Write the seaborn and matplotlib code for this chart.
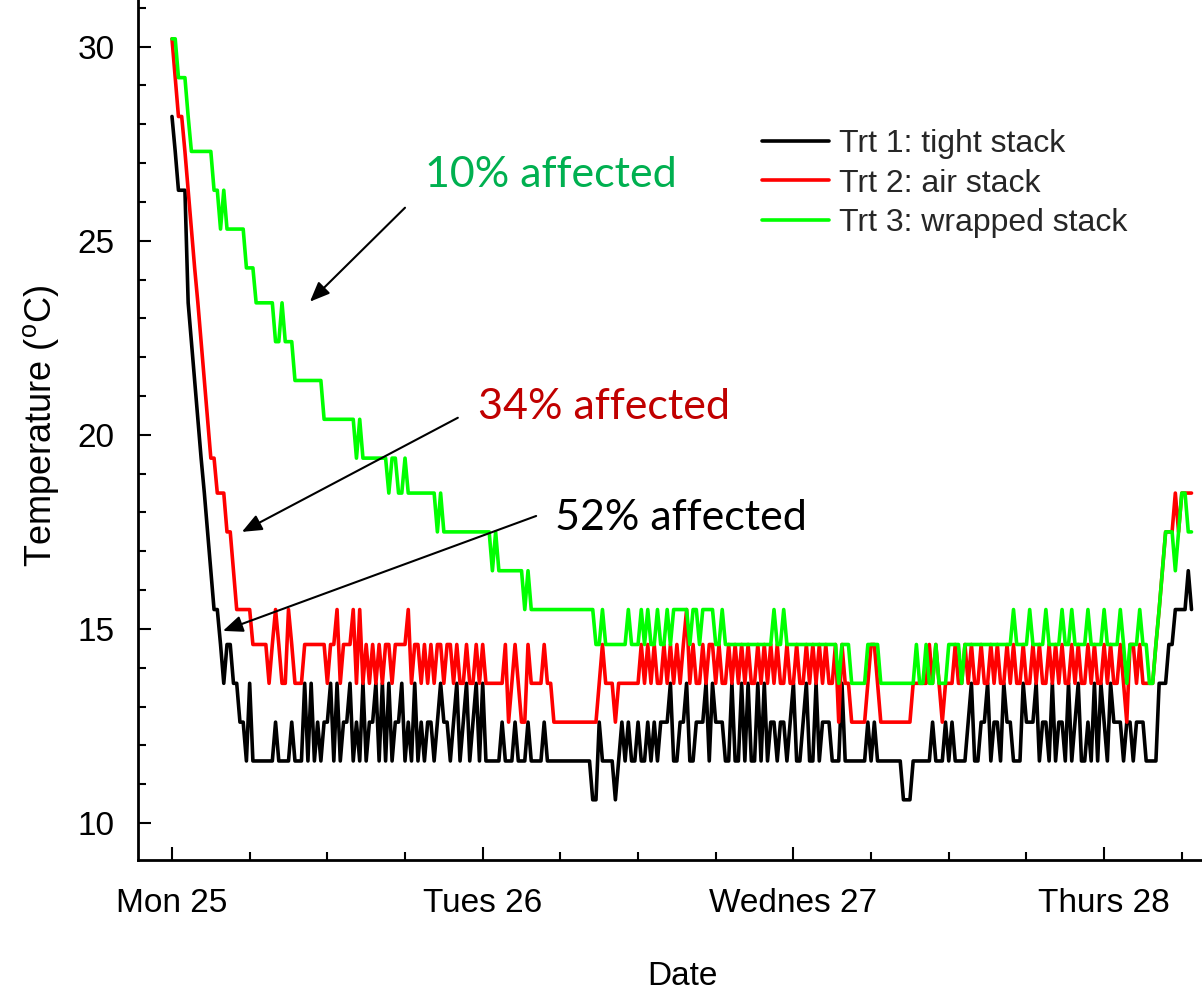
import numpy as np
import pandas as pd
import matplotlib
matplotlib.use("Agg")
import matplotlib.pyplot as plt
import seaborn as sns

sns.set_theme(style="ticks")
plt.rcParams["font.family"] = ["Liberation Sans", "DejaVu Sans"]
plt.rcParams["mathtext.default"] = "regular"

# logger readings, one every 15 min starting Mon 25 00:00
trt1 = [
    28.2, 27.3, 26.3, 26.3, 26.3, 23.4, 22.4, 21.4, 20.4, 19.4,
    18.5, 17.5, 16.5, 15.5, 15.5, 14.6, 13.6, 14.6, 14.6, 13.6,
    13.6, 12.6, 12.6, 11.6, 13.6, 11.6, 11.6, 11.6, 11.6, 11.6,
    11.6, 11.6, 12.6, 11.6, 11.6, 11.6, 11.6, 12.6, 11.6, 11.6,
    11.6, 13.6, 11.6, 13.6, 11.6, 12.6, 11.6, 12.6, 12.6, 13.6,
    11.6, 13.6, 11.6, 12.6, 12.6, 13.6, 11.6, 12.6, 11.6, 13.6,
    11.6, 12.6, 12.6, 13.6, 11.6, 13.6, 11.6, 13.6, 11.6, 12.6,
    12.6, 13.6, 11.6, 12.6, 11.6, 13.6, 11.6, 12.6, 11.6, 12.6,
    12.6, 11.6, 12.6, 13.6, 12.6, 12.6, 11.6, 12.6, 13.6, 11.6,
    12.6, 13.6, 11.6, 12.6, 13.6, 11.6, 13.6, 11.6, 11.6, 11.6,
    11.6, 11.6, 12.6, 11.6, 11.6, 11.6, 12.6, 11.6, 11.6, 11.6,
    12.6, 11.6, 11.6, 11.6, 11.6, 12.6, 11.6, 11.6, 11.6, 11.6,
    11.6, 11.6, 11.6, 11.6, 11.6, 11.6, 11.6, 11.6, 11.6, 11.6,
    10.6, 10.6, 12.6, 11.6, 11.6, 11.6, 11.6, 10.6, 11.6, 12.6,
    11.6, 12.6, 11.6, 11.6, 12.6, 11.6, 11.6, 12.6, 11.6, 12.6,
    11.6, 12.6, 12.6, 12.6, 13.6, 11.6, 11.6, 12.6, 12.6, 13.6,
    11.6, 11.6, 12.6, 12.6, 12.6, 13.6, 11.6, 13.6, 12.6, 12.6,
    12.6, 11.6, 11.6, 13.6, 11.6, 11.6, 13.6, 11.6, 13.6, 11.6,
    11.6, 13.6, 11.6, 13.6, 11.6, 12.6, 12.6, 11.6, 12.6, 12.6,
    11.6, 12.6, 13.6, 11.6, 11.6, 12.6, 13.6, 11.6, 11.6, 13.6,
    11.6, 12.6, 12.6, 12.6, 11.6, 11.6, 11.6, 13.6, 11.6, 11.6,
    11.6, 11.6, 11.6, 11.6, 11.6, 12.6, 11.6, 12.6, 11.6, 11.6,
    11.6, 11.6, 11.6, 11.6, 11.6, 11.6, 10.6, 10.6, 10.6, 11.6,
    11.6, 11.6, 11.6, 11.6, 11.6, 12.6, 11.6, 11.6, 11.6, 12.6,
    11.6, 12.6, 11.6, 11.6, 11.6, 11.6, 12.6, 13.6, 11.6, 11.6,
    12.6, 12.6, 13.6, 11.6, 12.6, 12.6, 11.6, 13.6, 12.6, 12.6,
    11.6, 11.6, 11.6, 13.6, 12.6, 12.6, 12.6, 13.6, 11.6, 12.6,
    12.6, 11.6, 13.6, 11.6, 12.6, 12.6, 11.6, 13.6, 11.6, 12.6,
    13.6, 11.6, 11.6, 12.6, 11.6, 13.6, 11.6, 13.6, 12.6, 11.6,
    13.6, 12.6, 12.6, 12.6, 11.6, 12.6, 12.6, 11.6, 12.6, 12.6,
    12.6, 11.6, 11.6, 11.6, 11.6, 13.6, 13.6, 13.6, 14.6, 14.6,
    15.5, 15.5, 15.5, 15.5, 16.5, 15.5,
]

trt2 = [
    30.2, 29.2, 28.2, 28.2, 27.3, 26.3, 25.3, 24.3, 23.4, 22.4,
    21.4, 20.4, 19.4, 19.4, 18.5, 18.5, 18.5, 17.5, 17.5, 16.5,
    15.5, 15.5, 15.5, 15.5, 15.5, 14.6, 14.6, 14.6, 14.6, 14.6,
    13.6, 14.6, 15.5, 14.6, 13.6, 13.6, 15.5, 14.6, 13.6, 13.6,
    13.6, 14.6, 14.6, 14.6, 14.6, 14.6, 14.6, 14.6, 13.6, 14.6,
    14.6, 15.5, 13.6, 14.6, 14.6, 14.6, 15.5, 13.6, 15.5, 13.6,
    14.6, 13.6, 14.6, 13.6, 14.6, 13.6, 14.6, 14.6, 13.6, 14.6,
    14.6, 14.6, 14.6, 15.5, 13.6, 14.6, 14.6, 13.6, 14.6, 13.6,
    14.6, 13.6, 14.6, 14.6, 13.6, 14.6, 14.6, 13.6, 14.6, 13.6,
    13.6, 14.6, 13.6, 13.6, 14.6, 13.6, 14.6, 13.6, 13.6, 13.6,
    13.6, 13.6, 13.6, 14.6, 12.6, 13.6, 14.6, 13.6, 12.6, 12.6,
    14.6, 13.6, 13.6, 13.6, 13.6, 14.6, 13.6, 13.6, 12.6, 12.6,
    12.6, 12.6, 12.6, 12.6, 12.6, 12.6, 12.6, 12.6, 12.6, 12.6,
    12.6, 12.6, 13.6, 14.6, 13.6, 13.6, 13.6, 12.6, 13.6, 13.6,
    13.6, 13.6, 13.6, 13.6, 13.6, 14.6, 13.6, 14.6, 13.6, 14.6,
    13.6, 13.6, 14.6, 13.6, 14.6, 13.6, 14.6, 13.6, 14.6, 15.5,
    13.6, 14.6, 13.6, 13.6, 14.6, 13.6, 14.6, 14.6, 13.6, 14.6,
    13.6, 13.6, 14.6, 13.6, 14.6, 13.6, 14.6, 13.6, 14.6, 13.6,
    13.6, 14.6, 13.6, 14.6, 13.6, 14.6, 13.6, 14.6, 13.6, 13.6,
    14.6, 13.6, 13.6, 14.6, 13.6, 13.6, 14.6, 13.6, 14.6, 13.6,
    14.6, 13.6, 14.6, 13.6, 13.6, 14.6, 12.6, 14.6, 13.6, 13.6,
    12.6, 12.6, 12.6, 12.6, 12.6, 13.6, 14.6, 14.6, 13.6, 12.6,
    12.6, 12.6, 12.6, 12.6, 12.6, 12.6, 12.6, 12.6, 12.6, 13.6,
    13.6, 13.6, 13.6, 13.6, 14.6, 13.6, 14.6, 13.6, 12.6, 13.6,
    13.6, 13.6, 14.6, 13.6, 13.6, 14.6, 13.6, 14.6, 13.6, 13.6,
    14.6, 13.6, 13.6, 14.6, 13.6, 14.6, 13.6, 13.6, 14.6, 13.6,
    14.6, 13.6, 13.6, 14.6, 13.6, 13.6, 14.6, 13.6, 14.6, 13.6,
    13.6, 14.6, 13.6, 14.6, 13.6, 14.6, 13.6, 13.6, 14.6, 13.6,
    14.6, 13.6, 13.6, 14.6, 13.6, 14.6, 13.6, 13.6, 14.6, 13.6,
    14.6, 13.6, 13.6, 14.6, 13.6, 12.6, 14.6, 14.6, 13.6, 14.6,
    13.6, 13.6, 13.6, 13.6, 14.6, 15.5, 16.5, 17.5, 17.5, 17.5,
    18.5, 17.5, 18.5, 18.5, 18.5, 18.5,
]

trt3 = [
    30.2, 30.2, 29.2, 29.2, 29.2, 28.2, 27.3, 27.3, 27.3, 27.3,
    27.3, 27.3, 27.3, 26.3, 26.3, 25.3, 26.3, 25.3, 25.3, 25.3,
    25.3, 25.3, 25.3, 24.3, 24.3, 24.3, 23.4, 23.4, 23.4, 23.4,
    23.4, 23.4, 22.4, 22.4, 23.4, 22.4, 22.4, 22.4, 21.4, 21.4,
    21.4, 21.4, 21.4, 21.4, 21.4, 21.4, 21.4, 20.4, 20.4, 20.4,
    20.4, 20.4, 20.4, 20.4, 20.4, 20.4, 20.4, 19.4, 20.4, 19.4,
    19.4, 19.4, 19.4, 19.4, 19.4, 19.4, 19.4, 18.5, 19.4, 19.4,
    18.5, 18.5, 19.4, 18.5, 18.5, 18.5, 18.5, 18.5, 18.5, 18.5,
    18.5, 18.5, 17.5, 18.5, 17.5, 17.5, 17.5, 17.5, 17.5, 17.5,
    17.5, 17.5, 17.5, 17.5, 17.5, 17.5, 17.5, 17.5, 17.5, 16.5,
    17.5, 16.5, 16.5, 16.5, 16.5, 16.5, 16.5, 16.5, 16.5, 15.5,
    16.5, 15.5, 15.5, 15.5, 15.5, 15.5, 15.5, 15.5, 15.5, 15.5,
    15.5, 15.5, 15.5, 15.5, 15.5, 15.5, 15.5, 15.5, 15.5, 15.5,
    15.5, 14.6, 14.6, 15.5, 14.6, 14.6, 14.6, 14.6, 14.6, 14.6,
    14.6, 15.5, 14.6, 14.6, 14.6, 15.5, 14.6, 15.5, 14.6, 14.6,
    15.5, 14.6, 14.6, 15.5, 14.6, 15.5, 15.5, 15.5, 15.5, 15.5,
    14.6, 15.5, 15.5, 14.6, 15.5, 15.5, 15.5, 15.5, 14.6, 14.6,
    15.5, 14.6, 14.6, 14.6, 14.6, 14.6, 14.6, 14.6, 14.6, 14.6,
    14.6, 14.6, 14.6, 14.6, 14.6, 14.6, 15.5, 14.6, 14.6, 15.5,
    14.6, 14.6, 14.6, 14.6, 14.6, 14.6, 14.6, 14.6, 14.6, 14.6,
    14.6, 14.6, 14.6, 14.6, 14.6, 14.6, 13.6, 14.6, 14.6, 14.6,
    13.6, 13.6, 13.6, 13.6, 13.6, 14.6, 14.6, 14.6, 14.6, 13.6,
    13.6, 13.6, 13.6, 13.6, 13.6, 13.6, 13.6, 13.6, 13.6, 13.6,
    14.6, 13.6, 13.6, 14.6, 13.6, 13.6, 14.6, 13.6, 13.6, 13.6,
    14.6, 14.6, 14.6, 14.6, 13.6, 14.6, 14.6, 14.6, 14.6, 14.6,
    14.6, 14.6, 14.6, 14.6, 14.6, 14.6, 14.6, 14.6, 14.6, 14.6,
    15.5, 14.6, 14.6, 14.6, 14.6, 15.5, 14.6, 14.6, 14.6, 14.6,
    15.5, 14.6, 14.6, 14.6, 14.6, 15.5, 14.6, 14.6, 15.5, 14.6,
    14.6, 14.6, 14.6, 15.5, 14.6, 14.6, 14.6, 14.6, 15.5, 14.6,
    14.6, 14.6, 14.6, 15.5, 14.6, 13.6, 14.6, 14.6, 14.6, 15.5,
    14.6, 14.6, 13.6, 13.6, 14.6, 15.5, 16.5, 17.5, 17.5, 17.5,
    16.5, 17.5, 18.5, 18.5, 17.5, 17.5,
]

trt_labels = ["Trt 1: tight stack", "Trt 2: air stack", "Trt 3: wrapped stack"]
trt_colors = ["#000000", "#ff0000", "#00ff00"]
day_ticks = [0, 1, 2, 3]
day_labels = ["Mon 25", "Tues 26", "Wednes 27", "Thurs 28"]

frames = []
for lab, vals in zip(trt_labels, [trt1, trt2, trt3]):
    frames.append(pd.DataFrame({"day": np.arange(len(vals)) / 96.0,
                                "temp": vals, "trt": lab}))
df = pd.concat(frames, ignore_index=True)

fig = plt.figure(figsize=(12.02, 9.92), dpi=100)
ax = fig.add_axes([0.1148, 0.1331, 0.8852, 0.8669])

sns.lineplot(data=df, x="day", y="temp", hue="trt", hue_order=trt_labels,
             palette=trt_colors, estimator=None, sort=False, lw=2.6,
             legend=False, ax=ax)

ax.set_xlim(-0.1094, 3.315)
ax.set_ylim(9.05, 31.2)
ax.set_xticks(day_ticks)
ax.set_xticklabels(day_labels)
ax.set_xticks(np.arange(0, 3.3, 0.25), minor=True)
ax.set_yticks([10, 15, 20, 25, 30])
ax.set_yticks(np.arange(10, 32, 1), minor=True)
ax.tick_params(which="both", direction="in", width=1.5, color="black",
               labelsize=24, labelcolor="black")
ax.tick_params(which="major", length=9.5)
ax.tick_params(which="minor", length=6)
ax.tick_params(axis="y", which="major", pad=17)
ax.tick_params(axis="x", which="major", pad=20)

sns.despine(ax=ax)
for side in ["left", "bottom"]:
    ax.spines[side].set_linewidth(2)
    ax.spines[side].set_color("black")

ax.set_xlabel("Date", fontsize=24, color="black")
ax.set_ylabel(r"Temperature ($^{o}$C)", fontsize=26, color="black")
ax.xaxis.set_label_coords(0.512, -0.118)
ax.yaxis.set_label_coords(-0.072, 0.505)

handles = [plt.Line2D([], [], color=c, lw=2.6) for c in trt_colors]
ax.legend(handles, trt_labels, loc="upper left", bbox_to_anchor=(0.5865, 0.850),
          frameon=False, fontsize=23, handlelength=2.1, handletextpad=0.3,
          labelspacing=0.3, borderpad=0, borderaxespad=0)

# damage annotations
arrow = dict(arrowstyle="-|>,head_length=0.6,head_width=0.25", color="black",
             lw=1.5, mutation_scale=20, shrinkA=0, shrinkB=0)
ax.annotate("", xy=(0.444, 23.43), xytext=(0.750, 25.85), arrowprops=arrow)
ax.annotate("", xy=(0.225, 17.50), xytext=(0.920, 20.44), arrowprops=arrow)
ax.annotate("", xy=(0.164, 14.95), xytext=(1.172, 17.91), arrowprops=arrow)
note_font = ["Lato", "DejaVu Sans"]
ax.text(0.814, 26.39, "10% affected", color="#00b050", fontsize=31,
        family=note_font, va="baseline")
ax.text(0.985, 20.41, "34% affected", color="#c00000", fontsize=31,
        family=note_font, va="baseline")
ax.text(1.233, 17.55, "52% affected", color="black", fontsize=31,
        family=note_font, va="baseline")

fig.savefig("out.png", dpi=100)
